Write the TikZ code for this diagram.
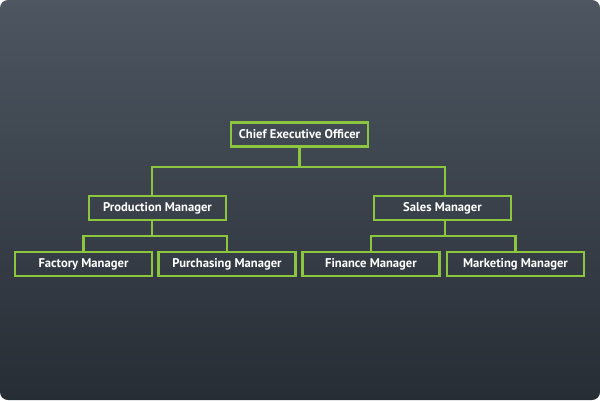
\documentclass[tikz,border=0pt]{standalone}
\usepackage{fontspec}
\setmainfont{PT Sans}
\definecolor{bgtop}{HTML}{4D5661}
\definecolor{bgbot}{HTML}{272D35}
\definecolor{lime}{HTML}{8CC63F}
\begin{document}
\begin{tikzpicture}[x=1pt,y=-1pt,
  box/.style={draw=lime,line width=2.6pt,fill=none,minimum width=137pt,minimum height=24pt,inner sep=0pt,text=white,font=\fontsize{12.6}{14}\selectfont\bfseries},
  conn/.style={draw=lime,line width=2.6pt}]
\useasboundingbox (0,0) rectangle (600,400);
\fill[white] (0,0) rectangle (600,400);
\shade[top color=bgtop,bottom color=bgbot,rounded corners=8pt] (0,0) rectangle (600,400);
\node[box] (ceo) at (299.5,134.5) {Chief Executive Officer};
\node[box] (pm) at (157.5,208) {Production Manager};
\node[box] (sm) at (442.5,208) {Sales Manager};
\node[box] (fm) at (83.5,264) {Factory Manager};
\node[box] (pu) at (227,264) {Purchasing Manager};
\node[box] (fi) at (371,264) {Finance Manager};
\node[box] (mm) at (515.5,264) {Marketing Manager};
\coordinate (j1) at (299.5,167);
\coordinate (j2) at (152,236);
\coordinate (j3) at (445,236);
\draw[conn] (ceo.south) -- (j1);
\draw[conn] (j1) -| (pm.north -| j2);
\draw[conn] (j1) -| (sm.north -| j3);
\draw[conn] (pm.south -| j2) -- (j2);
\draw[conn] (j2) -| (fm.north);
\draw[conn] (j2) -| (pu.north);
\draw[conn] (sm.south -| j3) -- (j3);
\draw[conn] (j3) -| (fi.north);
\draw[conn] (j3) -| (mm.north);
\end{tikzpicture}
\end{document}
